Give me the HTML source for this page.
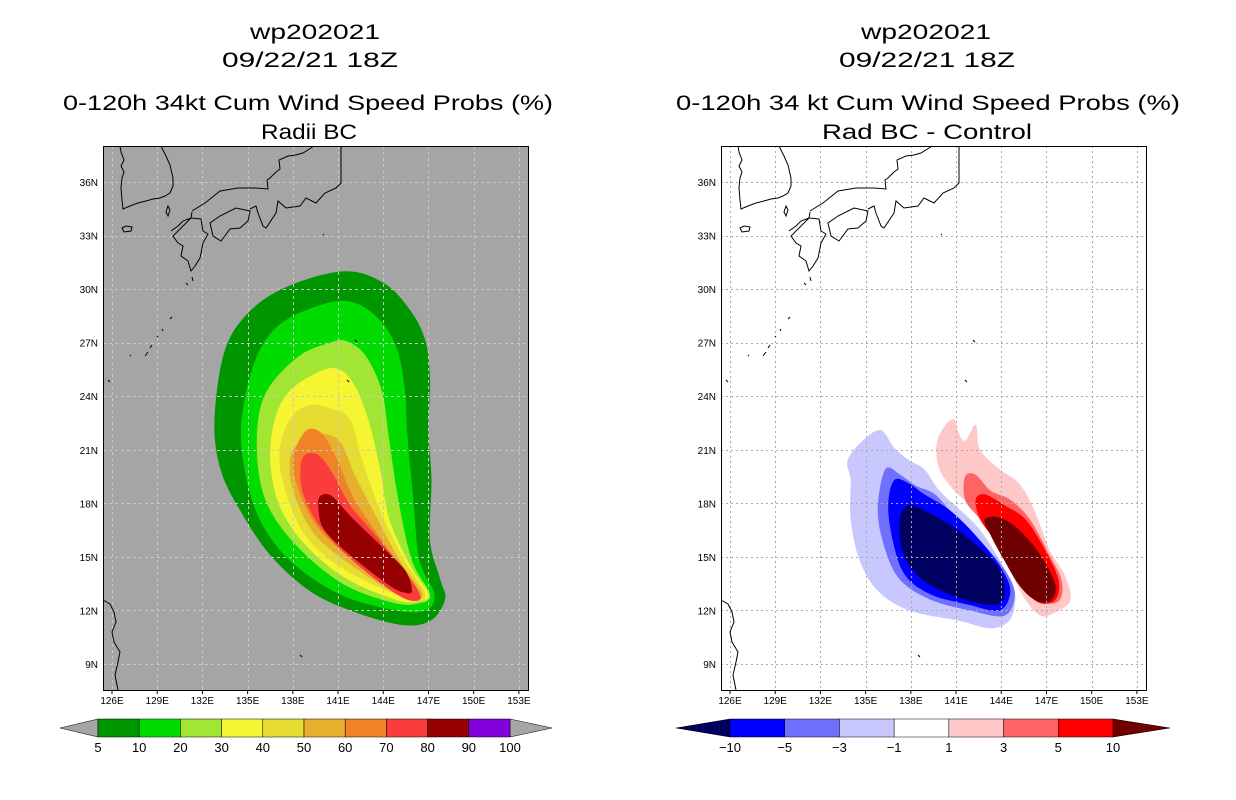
<!DOCTYPE html>
<html><head><meta charset="utf-8"><style>
html,body{margin:0;padding:0;background:#fff;}
svg{display:block;font-family:"Liberation Sans",sans-serif;}
</style></head><body>
<svg id="root" width="1236" height="800" viewBox="0 0 1236 800">
<g font-size="21" fill="#000" text-anchor="middle">
<text x="315" y="39" textLength="130" lengthAdjust="spacingAndGlyphs">wp202021</text>
<text x="310" y="67" textLength="176" lengthAdjust="spacingAndGlyphs">09/22/21 18Z</text>
<text x="308" y="110" textLength="490" lengthAdjust="spacingAndGlyphs">0-120h 34kt Cum Wind Speed Probs (%)</text>
<text x="309" y="139" textLength="96" lengthAdjust="spacingAndGlyphs">Radii BC</text>
</g>
<g font-size="21" fill="#000" text-anchor="middle">
<text x="926" y="39" textLength="130" lengthAdjust="spacingAndGlyphs">wp202021</text>
<text x="927" y="67" textLength="176" lengthAdjust="spacingAndGlyphs">09/22/21 18Z</text>
<text x="928" y="110" textLength="504" lengthAdjust="spacingAndGlyphs">0-120h 34 kt Cum Wind Speed Probs (%)</text>
<text x="927" y="139" textLength="210" lengthAdjust="spacingAndGlyphs">Rad BC - Control</text>
</g>
<g id="left"></g>
<g id="right"></g>
<g id="cbl"></g>
<g id="cbr"></g>
</svg>
<script>
// ---- data ----
const lonTicks=[126,129,132,135,138,141,144,147,150,153];
const latTicks=[9,12,15,18,21,24,27,30,33,36];
const probLevels=[5,10,20,30,40,50,60,70,80];
const probColors=['#009600','#00dc00','#a0e632','#f5f532','#e6dc32','#e6af2d','#f08228','#fa3c3c','#960000'];
const prob5=[137.8,30.2,141.5,31.0,144.1,30.3,145.8,28.8,146.8,27.1,147.1,24.9,147.0,22.1,147.2,19.3,147.1,15.9,147.8,13.7,148.1,12.6,147.1,11.4,145.1,11.2,141.8,12.0,139.1,13.1,136.5,15.1,134.5,17.6,133.2,19.9,132.8,22.7,133.5,26.6,135.2,28.8];
const prob10=[139.8,29.1,141.8,29.3,143.5,28.5,144.8,26.9,145.4,24.6,145.6,21.8,146.0,18.2,146.4,14.8,147.4,12.9,146.8,12.0,144.8,12.0,141.1,12.9,137.8,14.8,135.8,17.1,134.8,19.9,134.6,22.7,135.5,26.0,137.1,28.0];
const prob20=[140.5,27.0,141.5,27.1,142.8,26.3,143.9,24.3,144.4,21.5,145.0,18.2,145.9,14.8,147.1,12.9,146.4,12.4,144.8,12.4,141.5,13.4,138.5,15.4,136.5,17.6,135.7,19.9,135.7,22.7,136.5,24.6,138.5,26.3];
const prob30=[139.8,25.4,141.1,25.5,142.1,24.6,143.0,22.7,143.8,19.9,144.4,17.1,145.8,14.5,147.0,12.9,146.3,12.5,144.8,12.6,141.5,13.8,138.8,15.7,137.1,17.9,136.5,20.4,136.8,22.7,137.8,24.3];
const prob40=[140.5,23.3,141.8,22.7,142.6,20.4,143.8,17.6,145.4,14.8,146.8,12.9,145.8,12.6,141.8,14.1,139.1,15.9,137.7,18.2,137.1,20.7,137.8,22.7,139.1,23.5];
const prob50=[139.7,21.9,141.1,21.5,142.1,19.6,143.5,17.3,145.1,14.8,146.6,12.9,145.4,12.7,142.1,14.4,139.5,16.2,138.1,18.5,137.8,20.4,138.5,21.5];
const prob60=[138.8,22.0,139.8,22.0,140.8,20.7,142.1,18.2,144.1,15.7,146.3,13.1,145.4,12.9,142.5,14.5,139.8,16.5,138.5,18.5,138.0,20.4];
const prob70=[138.8,20.7,139.7,20.7,140.7,19.6,141.8,17.9,143.8,15.9,146.1,13.4,146.4,12.6,145.1,12.8,142.1,14.7,139.8,16.7,138.7,18.5,138.5,19.9];
const prob80=[139.8,18.4,140.6,18.4,141.8,17.3,143.5,15.9,145.4,14.3,145.9,13.1,145.4,13.0,144.4,13.4,141.8,15.1,140.1,16.5,139.7,17.6];
const diffLevels=[-1,-3,-5,-10,1,3,5,10];
const diffColors=['#c8c8ff','#7070ff','#0000ff','#000060','#ffc8c8','#ff6464','#ff0000','#6e0000'];
const diffM1=[133.8,20.4,134.8,21.5,136.0,22.1,136.9,21.1,137.9,20.4,138.9,19.9,139.9,18.7,141.3,17.6,142.6,16.5,143.9,14.8,144.9,13.1,144.6,11.5,143.3,11.0,141.3,11.4,137.9,12.0,135.8,13.1,134.6,14.8,134.0,17.1,134.0,19.3];
const diffM3=[136.3,19.9,137.3,19.6,138.3,19.0,139.6,18.5,140.9,17.3,142.6,15.9,144.2,14.3,144.9,12.9,144.2,11.7,141.9,12.0,139.3,12.6,137.3,13.7,136.3,15.4,135.8,17.6];
const diffM5=[136.9,19.3,137.9,19.1,138.9,18.5,140.6,17.6,142.3,16.2,143.9,14.5,144.6,13.1,143.9,12.0,141.9,12.3,139.3,12.9,137.6,14.0,136.8,15.9,136.5,17.9];
const diffM10=[137.9,17.9,138.9,17.6,140.6,16.8,142.3,15.7,143.9,14.3,144.2,12.9,143.6,12.3,141.6,12.6,139.3,13.4,137.9,14.5,137.3,15.9,137.3,17.3];
const diffP1=[140.3,22.4,140.9,22.7,141.1,22.1,141.6,21.5,142.3,22.4,142.6,21.0,143.9,19.9,145.2,19.1,146.2,17.6,147.2,15.4,148.2,14.0,148.6,12.6,147.6,11.9,146.6,11.7,145.6,12.6,144.9,13.7,144.2,15.1,143.3,16.5,142.3,17.6,140.9,18.7,139.9,19.9,139.7,21.3];
const diffP3=[141.6,19.5,142.3,19.6,143.3,18.7,144.6,18.2,145.9,17.1,147.2,15.1,148.0,13.7,147.9,12.6,146.9,12.4,145.9,12.9,144.9,14.3,143.9,15.7,142.6,17.1,141.6,18.2];
const diffP5=[142.3,18.2,142.9,18.5,144.2,17.9,145.6,17.1,146.9,15.4,147.8,13.7,147.6,12.6,146.6,12.4,145.6,13.1,144.6,14.5,143.6,15.9,142.6,17.1];
const diffP10=[142.9,17.1,143.9,17.2,145.2,16.5,146.6,15.1,147.6,13.4,147.2,12.5,146.2,12.6,145.2,13.4,144.2,14.8,143.3,16.2];
const probCbLabels=['5','10','20','30','40','50','60','70','80','90','100'];
const probCbColors=['#009600','#00dc00','#a0e632','#f5f532','#e6dc32','#e6af2d','#f08228','#fa3c3c','#960000','#8200dc'];
const diffCbLabels=['-10','-5','-3','-1','1','3','5','10'];
const diffCbColors=['#0000ff','#7070ff','#c8c8ff','#ffffff','#ffc8c8','#ff6464','#ff0000'];

// ---- axes ----
const NS='http://www.w3.org/2000/svg';
function mk(tag,attrs,parent){const e=document.createElementNS(NS,tag);for(const k in attrs)e.setAttribute(k,attrs[k]);parent.appendChild(e);return e;}
function axes(x0){return {x:lon=>x0+9+(lon-126)*15.07, y:lat=>182+(36-lat)*17.85};}
function smooth(arr,ax){const p=[];for(let i=0;i<arr.length;i+=2)p.push([ax.x(arr[i]),ax.y(arr[i+1])]);const n=p.length;let d='M'+p[0][0].toFixed(1)+','+p[0][1].toFixed(1);
 for(let i=0;i<n;i++){const a=p[(i-1+n)%n],b=p[i],c=p[(i+1)%n],e=p[(i+2)%n];
 d+=' C'+(b[0]+(c[0]-a[0])/6).toFixed(1)+','+(b[1]+(c[1]-a[1])/6).toFixed(1)+' '+(c[0]-(e[0]-b[0])/6).toFixed(1)+','+(c[1]-(e[1]-b[1])/6).toFixed(1)+' '+c[0].toFixed(1)+','+c[1].toFixed(1);}
 return d+'Z';}
const coast=
'M120,146 L121,152 L124,160 L121,166 L124,172 L122,178 L121,188 L122,200 L123,209 L130,206 L138,203 L146,201 L153,199 L160,198 L165,196 L170,193 L173,186 L173,178 L170,165 L166,156 L161,146 '+
'M168,206 L166,212 L168,216 L170,210 Z '+
'M122,228 L126,226 L132,227 L131,231 L124,232 Z '+
'M171,231 L178,226 L183,221 L191,218 L192,212 M191,218 L201,219 L203,231 L208,234 L203,243 L200,258 L195,266 L191,271 L188,261 L181,256 L183,246 L178,243 L173,236 Z '+
'M192,211 L205,203 L220,191 L238,188 L256,188 L268,189 L267,180 L270,178 L276,172 L280,169 L279,160 L288,156 L296,155 L303,153 L311,148 L314,146 '+
'M210,223 L213,236 L221,241 L230,229 L240,228 L248,221 L250,211 L236,208 L220,216 Z '+
'M250,209 L256,206 L258,213 L263,226 L266,228 L276,213 L278,201 L286,208 L300,206 L306,198 L316,203 L325,193 L336,188 L341,183 L341,170 L341,146 '+
'M186,283 L188,285 M192,277 L193,281 M170,319 L172,317 M162,329 L163,331 M157,336 L158,337 M150,348 L152,345 M145,356 L148,352 M130,355 L131,356 M323,234 L324,235 M108,380 L110,382 '+
'M103,600 L110,604 L114,612 L116,622 L112,632 L114,642 L120,652 L118,662 L115,675 L118,690 '+
'M300,655 L302,657 M355,340 L357,342 M347,380 L349,382';
function drawMap(g,x0,bg,gridCol,dash,layers,side){
 const ax=axes(x0);
 mk('rect',{x:x0,y:146,width:425,height:544,fill:bg,},g);
 const cg=mk('g',{},g);
 layers.forEach(l=>{const p=mk('path',{d:smooth(l.pts,ax),fill:l.col},cg);
  
  });
 const gg=mk('g',{stroke:gridCol,'stroke-width':1,'stroke-dasharray':dash,fill:'none',},g);
 lonTicks.forEach(v=>{const x=Math.round(ax.x(v))+0.5;mk('line',{x1:x,x2:x,y1:146,y2:690},gg);});
 latTicks.forEach(v=>{const y=Math.round(ax.y(v))+0.5;mk('line',{x1:x0,x2:x0+425,y1:y,y2:y},gg);});
 mk('path',{d:coast,transform:'translate('+(x0-103)+',0)',fill:'none',stroke:'#000','stroke-width':1,},g);
 mk('rect',{x:x0+0.5,y:146.5,width:425,height:544,fill:'none',stroke:'#000','stroke-width':1,},g);
 const tg=mk('g',{'font-size':10,fill:'#000',},g);
 lonTicks.forEach(v=>{const t=mk('text',{x:ax.x(v),y:704,'text-anchor':'middle'},tg);t.textContent=v+'E';
  
  mk('line',{x1:ax.x(v),x2:ax.x(v),y1:690,y2:694,stroke:'#000'},g);});
 latTicks.forEach(v=>{const t=mk('text',{x:x0-5,y:ax.y(v)+4,'text-anchor':'end'},tg);t.textContent=v+'N';
  });
}
const probArrs=[prob5,prob10,prob20,prob30,prob40,prob50,prob60,prob70,prob80];
drawMap(document.getElementById('left'),103,'#a5a5a5','#c8c8c8','3,3',probArrs.map((a,i)=>({pts:a,col:probColors[i],lvl:probLevels[i]})),'left');
const diffArrs=[diffM1,diffM3,diffM5,diffM10,diffP1,diffP3,diffP5,diffP10];
drawMap(document.getElementById('right'),721,'#ffffff','#aaaaaa','2,3',diffArrs.map((a,i)=>({pts:a,col:diffColors[i],lvl:diffLevels[i]})),'right');

function colorbar(g,x0,x1,lt,rt,cols,labels,ltCol,rtCol,side){
 const w=(x1-x0)/cols.length;
 mk('polygon',{points:lt+',728 '+x0+',719 '+x0+',737',fill:ltCol,stroke:'#000','stroke-width':0.5,},g);
 mk('polygon',{points:rt+',728 '+x1+',719 '+x1+',737',fill:rtCol,stroke:'#000','stroke-width':0.5,},g);
 cols.forEach((c,i)=>{const r=mk('rect',{x:x0+i*w,y:719,width:w,height:18,fill:c,stroke:'#000','stroke-width':0.5},g);
  });
 labels.forEach((l,i)=>{const t=mk('text',{x:x0+i*w,y:752,'text-anchor':'middle','font-size':13,fill:'#000'},g);t.textContent=l.replace('-','\u2212');
  });
}
colorbar(document.getElementById('cbl'),98,510,60,552,probCbColors,probCbLabels,'#a5a5a5','#a5a5a5','left');
colorbar(document.getElementById('cbr'),730,1113,676,1170,diffCbColors,diffCbLabels,'#000060','#6e0000','right');
</script>
</body></html>
